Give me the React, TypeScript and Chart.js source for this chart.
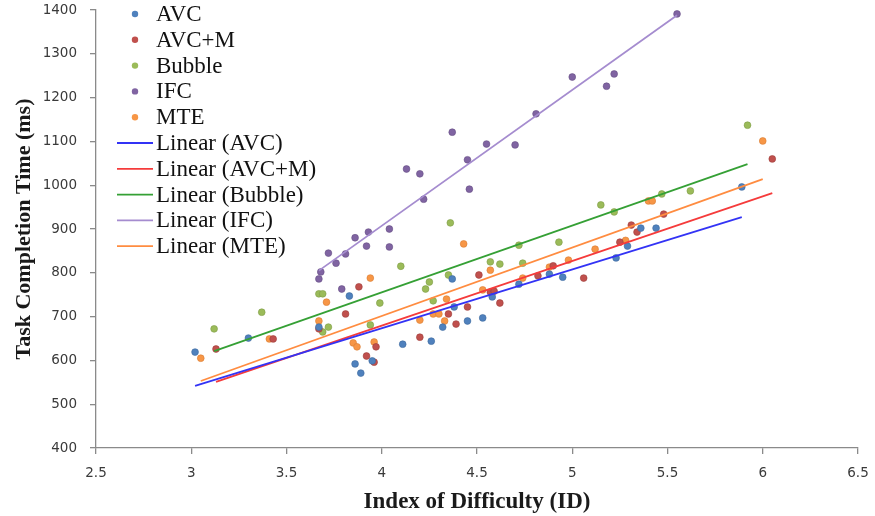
import React, { useEffect, useRef } from "react";
import { Chart, registerables } from "chart.js";

Chart.register(...registerables);

const seriesNames = ["AVC", "AVC+M", "Bubble", "IFC", "MTE"];
const trendNames = ["Linear (AVC)", "Linear (AVC+M)", "Linear (Bubble)", "Linear (IFC)", "Linear (MTE)"];

const avcX = [3.02, 3.30, 3.67, 3.83, 3.86, 3.89, 3.95, 4.11, 4.26, 4.32, 4.37, 4.38, 4.45, 4.53, 4.58, 4.72, 4.88, 4.95, 5.23, 5.29, 5.36, 5.44, 5.89];
const avcY = [619, 651, 676, 747, 592, 571, 599, 637, 644, 676, 786, 722, 690, 697, 745, 774, 797, 790, 834, 861, 902, 902, 996];

const avcmX = [3.13, 3.43, 3.67, 3.81, 3.88, 3.92, 3.96, 3.97, 4.20, 4.35, 4.39, 4.45, 4.51, 4.57, 4.59, 4.62, 4.82, 4.90, 5.06, 5.25, 5.31, 5.34, 5.48, 6.05];
const avcmY = [626, 649, 672, 706, 768, 610, 596, 631, 653, 706, 683, 722, 795, 756, 758, 731, 793, 816, 788, 870, 909, 893, 934, 1060];

const bubbleX = [3.12, 3.37, 3.67, 3.69, 3.69, 3.72, 3.94, 3.99, 4.10, 4.23, 4.25, 4.27, 4.35, 4.36, 4.57, 4.62, 4.72, 4.74, 4.93, 5.15, 5.22, 5.47, 5.62, 5.92];
const bubbleY = [672, 710, 752, 752, 665, 676, 681, 731, 815, 763, 779, 736, 795, 914, 825, 820, 863, 822, 870, 955, 939, 980, 987, 1137];

const ifcX = [3.67, 3.68, 3.72, 3.76, 3.79, 3.81, 3.86, 3.92, 3.93, 4.04, 4.04, 4.13, 4.20, 4.22, 4.37, 4.45, 4.46, 4.55, 4.70, 4.81, 5.00, 5.18, 5.22, 5.55];
const ifcY = [786, 802, 845, 822, 763, 843, 880, 861, 893, 900, 859, 1037, 1026, 968, 1121, 1058, 991, 1094, 1092, 1163, 1247, 1226, 1254, 1391];

const mteX = [3.05, 3.41, 3.67, 3.71, 3.85, 3.87, 3.94, 3.96, 4.20, 4.27, 4.30, 4.33, 4.34, 4.43, 4.53, 4.57, 4.74, 4.88, 4.98, 5.12, 5.28, 5.40, 5.42, 6.00];
const mteY = [605, 649, 690, 733, 640, 631, 788, 642, 692, 706, 706, 690, 740, 866, 761, 806, 788, 813, 829, 854, 874, 964, 964, 1101];

// trend line endpoints (start / end) per series
const trendStartX = [3.02, 3.13, 3.12, 3.67, 3.05];
const trendStartY = [542, 551, 621, 805, 553];
const trendEndX = [5.89, 6.05, 5.92, 5.55, 6.00];
const trendEndY = [927, 982, 1048, 1388, 1014];

const xTickLabels = ["2.5", "3", "3.5", "4", "4.5", "5", "5.5", "6", "6.5"];
const yTickLabels = ["400", "500", "600", "700", "800", "900", "1000", "1100", "1200", "1300", "1400"];

const markerColors = ["#4F81BD", "#C0504D", "#9BBB59", "#8064A2", "#F79646"];
const markerBorders = ["#3E6A9E", "#9E3E3B", "#7E9C46", "#664F85", "#D97C33"];
const lineColors = ["#3333F5", "#F53B3B", "#35A035", "#A58CCF", "#FF8C40"];

const seriesX = [avcX, avcmX, bubbleX, ifcX, mteX];
const seriesY = [avcY, avcmY, bubbleY, ifcY, mteY];

const legendPlugin = {
  id: "customLegend",
  afterDraw(chart: any) {
    const ctx = chart.ctx;
    ctx.save();
    ctx.font = "23px 'Liberation Serif'";
    ctx.textBaseline = "middle";
    ctx.textAlign = "left";
    const textX = 156;
    const rowH = 25.8;
    let y = 14;
    for (let i = 0; i < seriesNames.length; i++) {
      ctx.beginPath();
      ctx.arc(135, y, 3.2, 0, Math.PI * 2);
      ctx.fillStyle = markerColors[i];
      ctx.fill();
      ctx.fillStyle = "#111";
      ctx.fillText(seriesNames[i], textX, y + 1);
      y += rowH;
    }
    for (let i = 0; i < trendNames.length; i++) {
      ctx.beginPath();
      ctx.moveTo(117, y);
      ctx.lineTo(153, y);
      ctx.strokeStyle = lineColors[i];
      ctx.lineWidth = 1.8;
      ctx.stroke();
      ctx.fillStyle = "#111";
      ctx.fillText(trendNames[i], textX, y + 1);
      y += rowH;
    }
    ctx.restore();
  },
};

export default function App() {
  const ref = useRef<HTMLCanvasElement | null>(null);
  useEffect(() => {
    document.body.style.margin = "0";
    const canvas = ref.current;
    if (!canvas) return;
    const pointSets = seriesNames.map((name, i) => ({
      type: "scatter" as const,
      label: name,
      data: seriesX[i].map((x, j) => ({ x, y: seriesY[i][j] })),
      backgroundColor: markerColors[i],
      borderColor: markerBorders[i],
      borderWidth: 0.6,
      pointRadius: 3.4,
      order: 2,
    }));
    const lineSets = trendNames.map((name, i) => ({
      type: "line" as const,
      label: name,
      data: [
        { x: trendStartX[i], y: trendStartY[i] },
        { x: trendEndX[i], y: trendEndY[i] },
      ],
      borderColor: lineColors[i],
      borderWidth: 1.8,
      pointRadius: 0,
      fill: false,
      order: 1,
    }));
    const axisColor = "#8a8a8a";
    const tickFont = { family: "'DejaVu Sans'", size: 13.5 };
    const chart = new Chart(canvas, {
      type: "scatter",
      data: { datasets: [...pointSets, ...lineSets] as any },
      options: {
        animation: false,
        responsive: false,
        devicePixelRatio: 1,
        layout: { padding: { top: 10, right: 17, left: 0, bottom: 0 } },
        plugins: { legend: { display: false }, tooltip: { enabled: false } },
        scales: {
          x: {
            type: "linear",
            min: 2.5,
            max: 6.5,
            afterFit: (s: any) => {
              s.height = 68;
              s.paddingRight = 0;
              s.paddingLeft = 0;
            },
            ticks: {
              stepSize: 0.5,
              autoSkip: false,
              maxRotation: 0,
              padding: 11,
              color: "#3a3a3a",
              font: tickFont,
              callback: (_v: any, idx: number) => xTickLabels[idx],
            },
            grid: { drawOnChartArea: false, drawTicks: true, tickLength: 6, color: axisColor, lineWidth: 1.3 },
            border: { color: axisColor, width: 1.3 },
            title: {
              display: true,
              text: "Index of Difficulty (ID)",
              color: "#1a1a1a",
              font: { family: "'Liberation Serif'", size: 23, weight: "bold" },
              padding: { top: 0, bottom: 0 },
            },
          },
          y: {
            type: "linear",
            min: 400,
            max: 1400,
            afterFit: (s: any) => {
              s.width = 96;
              s.paddingTop = 0;
              s.paddingBottom = 0;
            },
            ticks: {
              stepSize: 100,
              autoSkip: false,
              padding: 13,
              color: "#3a3a3a",
              font: tickFont,
              callback: (_v: any, idx: number) => yTickLabels[idx],
            },
            grid: { drawOnChartArea: false, drawTicks: true, tickLength: 6, color: axisColor, lineWidth: 1.3 },
            border: { color: axisColor, width: 1.3 },
            title: {
              display: true,
              text: "Task Completion Time (ms)",
              color: "#1a1a1a",
              font: { family: "'Liberation Serif'", size: 22, weight: "bold" },
              padding: { top: 11, bottom: 0 },
            },
          },
        },
      },
      plugins: [legendPlugin],
    } as any);
    return () => chart.destroy();
  }, []);
  return (
    <div style={{ width: 875, height: 516, background: "#fff" }}>
      <canvas ref={ref} width={875} height={516} style={{ display: "block" }} />
    </div>
  );
}
